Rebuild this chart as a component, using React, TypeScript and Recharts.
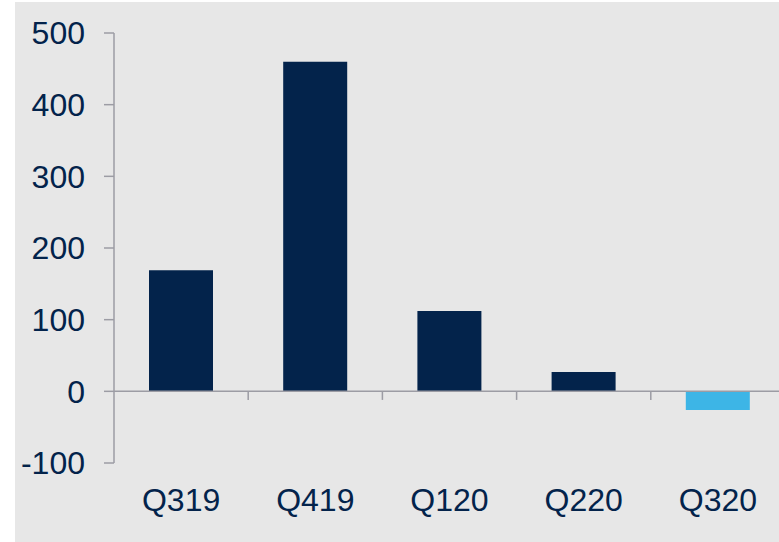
import React from 'react';
import { BarChart, Bar, XAxis, YAxis, Cell, ReferenceLine } from 'recharts';

const quarters = ['Q319', 'Q419', 'Q120', 'Q220', 'Q320'];
const values = [169, 460, 112, 27, -26];
const yTicks = [-100, 0, 100, 200, 300, 400, 500];

const data = quarters.map((q, i) => ({ quarter: q, value: values[i], slot: i }));

const NAVY = '#03234b';
const SKY = '#3db5e6';
const AXIS = '#9c9ca4';
const FONT = '"Liberation Sans", Arial, sans-serif';

export default function App() {
  return (
    <div style={{ position: 'absolute', left: 0, top: 0, width: 779, height: 542, overflow: 'hidden', background: '#fff' }}>
      <div style={{ position: 'absolute', left: 15, top: 2, width: 764, height: 540, background: '#e7e7e7' }}>
        <BarChart
          width={770}
          height={540}
          data={data}
          margin={{ top: 31, right: 0, bottom: 0, left: 0 }}
          style={{ fontFamily: FONT }}
        >
          <XAxis
            dataKey="quarter"
            xAxisId="cat"
            axisLine={false}
            tickLine={false}
            tickSize={0}
            tickMargin={25}
            tick={{ fill: NAVY, fontSize: 32 }}
            height={79}
          />
          <XAxis
            xAxisId="num"
            dataKey="slot"
            type="number"
            domain={[0, quarters.length]}
            allowDataOverflow
            hide
          />
          <YAxis
            domain={[-100, 500]}
            ticks={yTicks}
            interval={0}
            width={99}
            axisLine={{ stroke: AXIS, strokeWidth: 1.5 }}
            tickLine={{ stroke: AXIS, strokeWidth: 1.5 }}
            tickSize={10}
            tickMargin={19}
            tick={{ fill: NAVY, fontSize: 32 }}
          />
          <ReferenceLine xAxisId="num" y={0} stroke={AXIS} strokeWidth={1.5} />
          {quarters.slice(1).map((q, i) => (
            <ReferenceLine
              key={q}
              xAxisId="num"
              segment={[{ x: i + 1, y: 0 }, { x: i + 1, y: -12 }]}
              stroke={AXIS}
              strokeWidth={1.5}
            />
          ))}
          <Bar dataKey="value" xAxisId="cat" barSize={64} isAnimationActive={false}>
            {data.map((d) => (
              <Cell key={d.quarter} fill={d.value < 0 ? SKY : NAVY} />
            ))}
          </Bar>
        </BarChart>
      </div>
    </div>
  );
}
